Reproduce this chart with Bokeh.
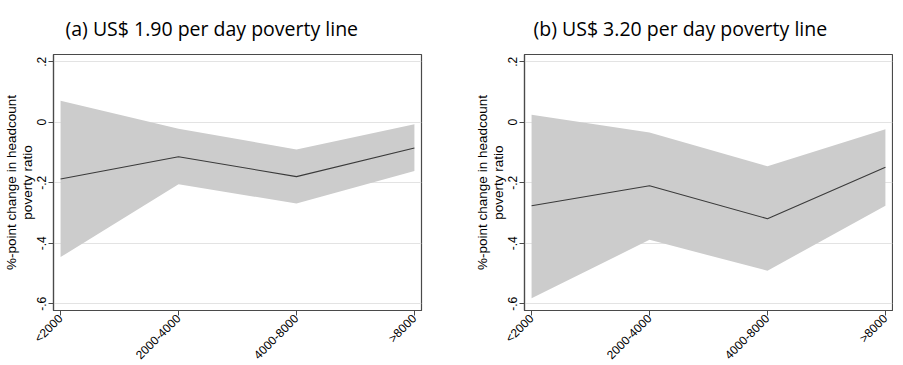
import math
from bokeh.plotting import figure
from bokeh.layouts import row
from bokeh.models import FixedTicker, Range1d
from bokeh.embed import file_html
from bokeh.resources import INLINE

categories = ["<2000", "2000-4000", "4000-8000", ">8000"]
y_ticks = [-0.6, -0.4, -0.2, 0.0, 0.2]
y_tick_labels = ["-.6", "-.4", "-.2", "0", ".2"]

a_title = "(a) US$ 1.90 per day poverty line"
a_est = [-0.188, -0.114, -0.180, -0.085]
a_upper = [0.071, -0.022, -0.090, -0.007]
a_lower = [-0.446, -0.205, -0.269, -0.161]

b_title = "(b) US$ 3.20 per day poverty line"
b_est = [-0.276, -0.210, -0.319, -0.149]
b_upper = [0.025, -0.034, -0.146, -0.023]
b_lower = [-0.582, -0.389, -0.491, -0.276]

y_label = "%-point change in headcount\npoverty ratio"

FRAME_W = 368
FRAME_H = 256


def panel(title, est, upper, lower, border_left, border_right, title_offset):
    xs = list(range(len(categories)))
    p = figure(
        frame_width=FRAME_W,
        frame_height=FRAME_H,
        output_backend="svg",
        toolbar_location=None,
        x_range=Range1d(-0.06, len(categories) - 1 + 0.06),
        y_range=Range1d(-0.6225, 0.2238),
        min_border_left=border_left,
        min_border_right=border_right,
        min_border_top=53,
        min_border_bottom=30,
        title=title,
    )
    p.title.text_font = "Open Sans"
    p.title.text_font_size = "19.5px"
    p.title.text_font_style = "normal"
    p.title.text_color = "#000000"
    p.title.align = "left"
    p.title.offset = title_offset
    p.title.standoff = 25

    p.varea(x=xs, y1=lower, y2=upper, fill_color="#cccccc", fill_alpha=1.0)
    p.line(x=xs, y=est, line_color="#3a3a3a", line_width=1.1)

    p.outline_line_color = "#4a4a4a"
    p.outline_line_width = 1.2
    p.background_fill_color = "white"
    p.border_fill_color = "white"

    p.xgrid.visible = False
    p.ygrid.ticker = FixedTicker(ticks=y_ticks)
    p.ygrid.grid_line_color = "#e3e3e3"
    p.ygrid.grid_line_width = 1

    xa = p.xaxis[0]
    xa.ticker = FixedTicker(ticks=xs)
    xa.major_label_overrides = {i: c for i, c in zip(xs, categories)}
    xa.major_label_orientation = math.pi / 4
    xa.major_label_text_font = "Liberation Sans"
    xa.major_label_text_font_size = "12px"
    xa.major_label_text_color = "#000000"
    xa.major_label_standoff = 1
    xa.axis_line_color = "#4a4a4a"
    xa.axis_line_width = 1.2
    xa.major_tick_line_color = "#4a4a4a"
    xa.major_tick_out = 5
    xa.major_tick_in = 0
    xa.minor_tick_line_color = None

    ya = p.yaxis[0]
    ya.ticker = FixedTicker(ticks=y_ticks)
    ya.major_label_overrides = {t: l for t, l in zip(y_ticks, y_tick_labels)}
    ya.major_label_orientation = "vertical"
    ya.major_label_text_font = "Liberation Sans"
    ya.major_label_text_font_size = "12px"
    ya.major_label_text_color = "#000000"
    ya.major_label_standoff = 2
    ya.axis_line_color = "#4a4a4a"
    ya.axis_line_width = 1.2
    ya.major_tick_line_color = "#4a4a4a"
    ya.major_tick_out = 5
    ya.major_tick_in = 0
    ya.minor_tick_line_color = None
    ya.axis_label = y_label
    ya.axis_label_text_font = "Liberation Sans"
    ya.axis_label_text_font_size = "13.5px"
    ya.axis_label_text_font_style = "normal"
    ya.axis_label_text_color = "#000000"
    ya.axis_label_text_align = "center"
    ya.axis_label_text_line_height = 1.05
    ya.axis_label_standoff = 0
    return p


p1 = panel(a_title, a_est, a_upper, a_lower, 47, 35, 12)
p2 = panel(b_title, b_est, b_upper, b_lower, 68, 1, 9)

layout = row(p1, p2, spacing=0)
open("out.html", "w").write(file_html(layout, INLINE))
